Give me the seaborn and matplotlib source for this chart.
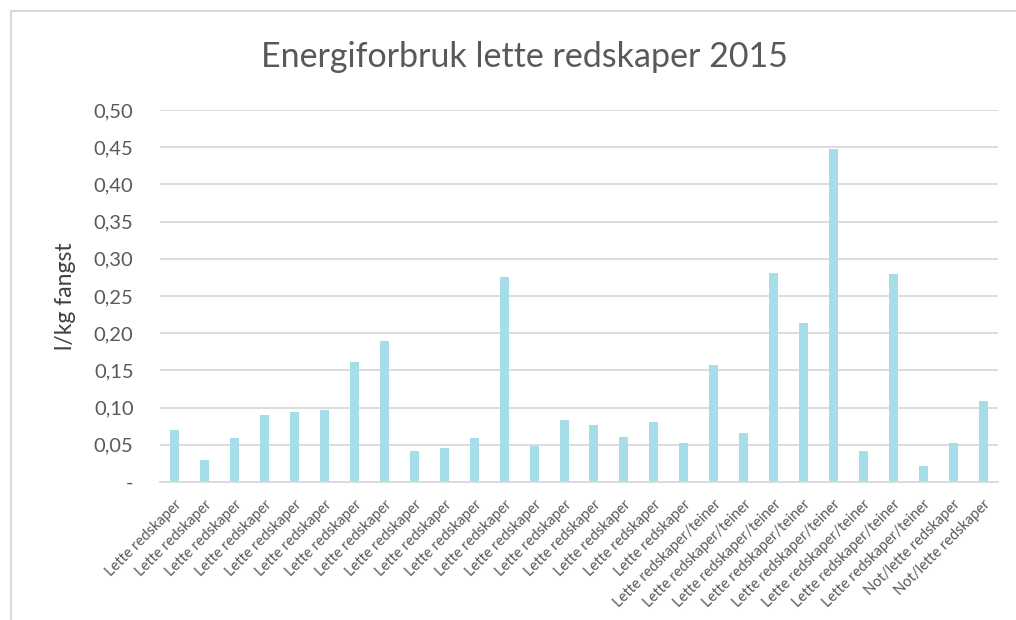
import matplotlib
matplotlib.use("Agg")
import matplotlib.pyplot as plt
from matplotlib.lines import Line2D
from matplotlib.ticker import FuncFormatter
import seaborn as sns
import pandas as pd
import numpy as np

sns.set_theme(style="white")
plt.rcParams["font.family"] = ["Lato", "DejaVu Sans"]

# data
categories = (["Lette redskaper"] * 18
              + ["Lette redskaper/teiner"] * 8
              + ["Not/lette redskaper"] * 2)
values = [0.070, 0.030, 0.059, 0.090, 0.094, 0.097, 0.161, 0.190, 0.042, 0.046,
          0.059, 0.276, 0.049, 0.083, 0.076, 0.061, 0.081, 0.053, 0.157, 0.066,
          0.281, 0.214, 0.447, 0.042, 0.280, 0.021, 0.053, 0.109]
yticks = [0.0, 0.05, 0.10, 0.15, 0.20, 0.25, 0.30, 0.35, 0.40, 0.45, 0.50]

df = pd.DataFrame({"pos": np.arange(len(values)), "val": values})

TEXT = "#595959"
GRID = "#d9d9d9"
BAR = "#a5dee9"

fig = plt.figure(figsize=(10.16, 6.2), dpi=100)
ax = fig.add_axes([160 / 1016, 1 - 482 / 620, 838 / 1016, 372 / 620])

sns.barplot(data=df, x="pos", y="val", color=BAR, width=0.3, saturation=1,
            edgecolor="none", ax=ax)

ax.set_xlim(-0.5, len(values) - 0.5)
ax.set_ylim(0, 0.5)
ax.set_yticks(yticks)
ax.yaxis.set_major_formatter(FuncFormatter(
    lambda v, p: "-" if abs(v) < 1e-9 else f"{v:.2f}".replace(".", ",")))
ax.grid(axis="y", color=GRID, linewidth=1.3)
ax.set_axisbelow(True)
for s in ["left", "right", "top"]:
    ax.spines[s].set_visible(False)
ax.spines["bottom"].set_color(GRID)
ax.spines["bottom"].set_linewidth(1.3)
ax.tick_params(axis="y", length=0, pad=19, labelsize=14.5, labelcolor=TEXT)
ax.tick_params(axis="x", length=0, pad=11, labelsize=10.5, labelcolor=TEXT)

ax.set_xticks(range(len(categories)))
ax.set_xticklabels(categories, rotation=45, ha="right", rotation_mode="anchor")

ax.set_xlabel("")
ax.set_ylabel("l/kg fangst", fontsize=16.5, color="#404040")
ax.yaxis.set_label_coords(-0.100, 0.5)
fig.text(0.516, 0.908, "Energiforbruk lette redskaper 2015", ha="center",
         va="center", fontsize=24.5, color=TEXT)

# chart frame (only left and top edges visible in the reference)
fig.add_artist(Line2D([11 / 1016, 11 / 1016], [0, 1 - 11 / 620],
                      transform=fig.transFigure, color=GRID, lw=1.5))
fig.add_artist(Line2D([11 / 1016, 1], [1 - 11 / 620, 1 - 11 / 620],
                      transform=fig.transFigure, color=GRID, lw=1.5))

plt.savefig("out.png", dpi=100)
plt.close()
